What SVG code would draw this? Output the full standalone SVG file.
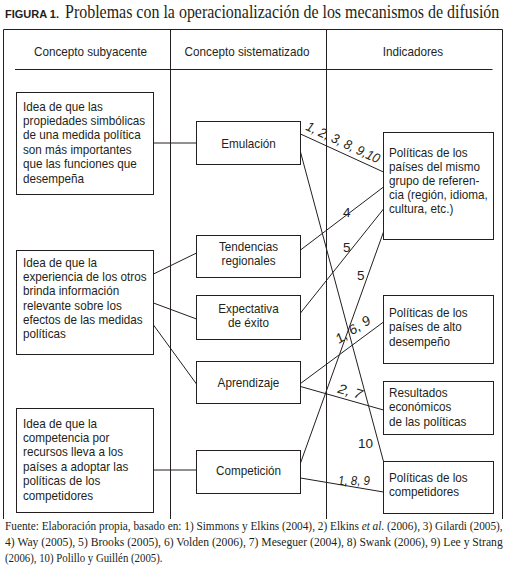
<svg xmlns="http://www.w3.org/2000/svg" width="507" height="571" viewBox="0 0 507 571">
<style>
.b{fill:#fff;stroke:#231f20;stroke-width:1}
.l{fill:none;stroke:#231f20;stroke-width:1}
.t{font-family:"Liberation Sans",Arial,sans-serif;font-size:13px;fill:#231f20}
.c{text-anchor:middle}
.lab{font-family:"Liberation Sans",Arial,sans-serif;font-size:13.5px;fill:#231f20}
.i{font-style:italic}
.s{font-family:"Liberation Serif","Times New Roman",serif;fill:#231f20}
</style>
<rect width="507" height="571" fill="#fff"/>
<g id="title">
<text x="5" y="18" style="font-family:'Liberation Sans',Arial,sans-serif;font-size:11px;font-weight:bold;fill:#231f20">FIGURA 1.</text>
<text class="s" transform="translate(65 18) scale(.89 1)" font-size="18" textLength="488" lengthAdjust="spacingAndGlyphs">Problemas con la operacionalización de los mecanismos de difusión</text>
</g>
<g id="table">
<path class="l" d="M3.5,519V29.5H502.5V519M170.5,29.5V519M326.5,29.5V519M15,69.5H492.5"/>
<text class="t c" transform="translate(90.5 56) scale(.9 1)">Concepto subyacente</text>
<text class="t c" transform="translate(247 56) scale(.9 1)">Concepto sistematizado</text>
<text class="t c" transform="translate(413 56) scale(.9 1)">Indicadores</text>
</g>
<g id="connectors">
<path class="l" d="M153.5,143H196.5"/>
<path class="l" d="M153.5,274L196.5,253"/>
<path class="l" d="M153.5,303L196.5,319"/>
<path class="l" d="M153.5,325L196.5,384"/>
<path class="l" d="M153.5,470H196.5"/>
<path class="l" d="M300.5,134L383.5,172"/>
<path class="l" d="M300.5,152L383.5,461.5"/>
<path class="l" d="M300.5,250L383.5,187"/>
<path class="l" d="M300.5,313L383.5,209"/>
<path class="l" d="M300.5,463L383.5,232"/>
<path class="l" d="M300.5,383.5L383.5,322"/>
<path class="l" d="M300.5,386.5L383.5,410"/>
<path class="l" d="M300.5,478L383.5,492"/>
<text class="lab i" transform="translate(305 129.5) rotate(25.2)" textLength="80" lengthAdjust="spacingAndGlyphs">1, 2, 3, 8, 9,10</text>
<text class="lab" x="343" y="216.5">4</text>
<text class="lab" x="343" y="252">5</text>
<text class="lab" x="357" y="280">5</text>
<text class="lab i" transform="translate(339 344) rotate(-33)" textLength="39" lengthAdjust="spacingAndGlyphs">1, 6, 9</text>
<text class="lab i" transform="translate(337 392.5) rotate(16)" textLength="25" lengthAdjust="spacingAndGlyphs">2, 7</text>
<text class="lab" x="358" y="448">10</text>
<text class="lab i" x="338" y="484.5" textLength="32" lengthAdjust="spacingAndGlyphs">1, 8, 9</text>
</g>
<g id="idea-simbolicas">
<rect class="b" x="16.5" y="92.5" width="137" height="102"/>
<text class="t" transform="translate(23 110.5) scale(.9 1)"><tspan x="0" y="0">Idea de que las</tspan><tspan x="0" y="14.5">propiedades simbólicas</tspan><tspan x="0" y="29">de una medida política</tspan><tspan x="0" y="43.5">son más importantes</tspan><tspan x="0" y="58">que las funciones que</tspan><tspan x="0" y="72.5">desempeña</tspan></text>
</g>
<g id="idea-experiencia">
<rect class="b" x="16.5" y="250.5" width="137" height="104"/>
<text class="t" transform="translate(23 266.5) scale(.9 1)"><tspan x="0" y="0">Idea de que la</tspan><tspan x="0" y="14.4">experiencia de los otros</tspan><tspan x="0" y="28.8">brinda información</tspan><tspan x="0" y="43.2">relevante sobre los</tspan><tspan x="0" y="57.6">efectos de las medidas</tspan><tspan x="0" y="72">políticas</tspan></text>
</g>
<g id="idea-competencia">
<rect class="b" x="16.5" y="408.5" width="137" height="104"/>
<text class="t" transform="translate(23 427.5) scale(.9 1)"><tspan x="0" y="0">Idea de que la</tspan><tspan x="0" y="14.5">competencia por</tspan><tspan x="0" y="29">recursos lleva a los</tspan><tspan x="0" y="43.5">países a adoptar las</tspan><tspan x="0" y="58">políticas de los</tspan><tspan x="0" y="72.5">competidores</tspan></text>
</g>
<g id="emulacion">
<rect class="b" x="196.5" y="121.5" width="104" height="43"/>
<text class="t c" transform="translate(248.5 148) scale(.9 1)">Emulación</text>
</g>
<g id="tendencias">
<rect class="b" x="196.5" y="235.5" width="104" height="42"/>
<text class="t c" transform="translate(248.5 251) scale(.9 1)"><tspan x="0" y="0">Tendencias</tspan><tspan x="0" y="14.5">regionales</tspan></text>
</g>
<g id="expectativa">
<rect class="b" x="196.5" y="295.5" width="104" height="44"/>
<text class="t c" transform="translate(248.5 312.5) scale(.9 1)"><tspan x="0" y="0">Expectativa</tspan><tspan x="0" y="14.5">de éxito</tspan></text>
</g>
<g id="aprendizaje">
<rect class="b" x="196.5" y="361.5" width="104" height="42"/>
<text class="t c" transform="translate(248.5 386.5) scale(.9 1)">Aprendizaje</text>
</g>
<g id="competicion">
<rect class="b" x="196.5" y="450.5" width="104" height="43"/>
<text class="t c" transform="translate(248.5 474.5) scale(.9 1)">Competición</text>
</g>
<g id="mismo-grupo">
<rect class="b" x="383.5" y="132.5" width="110" height="107"/>
<text class="t" transform="translate(389 156.5) scale(.9 1)"><tspan x="0" y="0">Políticas de los</tspan><tspan x="0" y="14.2">países del mismo</tspan><tspan x="0" y="28.4">grupo de referen-</tspan><tspan x="0" y="42.6">cia (región, idioma,</tspan><tspan x="0" y="56.8">cultura, etc.)</tspan></text>
</g>
<g id="alto-desempeno">
<rect class="b" x="383.5" y="295.5" width="110" height="68"/>
<text class="t" transform="translate(389 317) scale(.9 1)"><tspan x="0" y="0">Políticas de los</tspan><tspan x="0" y="14.5">países de alto</tspan><tspan x="0" y="29">desempeño</tspan></text>
</g>
<g id="resultados">
<rect class="b" x="383.5" y="381.5" width="110" height="53"/>
<text class="t" transform="translate(389 397) scale(.9 1)"><tspan x="0" y="0">Resultados</tspan><tspan x="0" y="14.5">económicos</tspan><tspan x="0" y="29">de las políticas</tspan></text>
</g>
<g id="competidores">
<rect class="b" x="383.5" y="461.5" width="110" height="52"/>
<text class="t" transform="translate(389 481.5) scale(.9 1)"><tspan x="0" y="0">Políticas de los</tspan><tspan x="0" y="14.5">competidores</tspan></text>
</g>
<g id="source">
<text class="s" transform="translate(5 529.5) scale(.9 1)" font-size="12.5" textLength="553" lengthAdjust="spacingAndGlyphs">Fuente: Elaboración propia, basado en: 1) Simmons y Elkins (2004), 2) Elkins <tspan font-style="italic">et al.</tspan> (2006), 3) Gilardi (2005),</text>
<text class="s" transform="translate(5 546) scale(.9 1)" font-size="12.5" textLength="553" lengthAdjust="spacingAndGlyphs">4) Way (2005), 5) Brooks (2005), 6) Volden (2006), 7) Meseguer (2004), 8) Swank (2006), 9) Lee y Strang</text>
<text class="s" transform="translate(5 562) scale(.9 1)" font-size="12.5" textLength="175" lengthAdjust="spacingAndGlyphs">(2006), 10) Polillo y Guillén (2005).</text>
</g>
</svg>
